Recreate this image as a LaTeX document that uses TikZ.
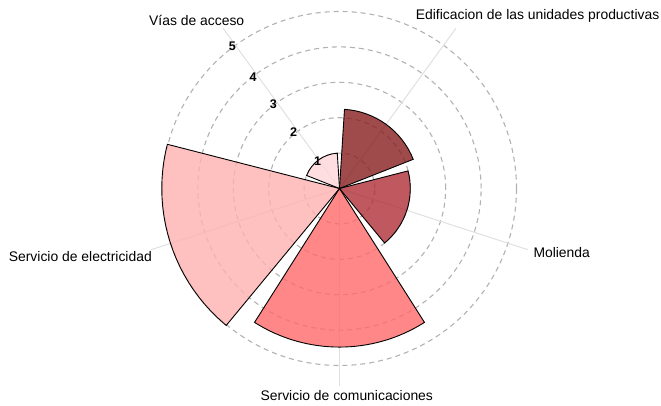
\documentclass[tikz,border=0pt]{standalone}
\usepackage{fontspec}
\setmainfont{Liberation Sans}
\usetikzlibrary{calc}
\begin{document}
\begin{tikzpicture}[x=1pt,y=1pt,
  ring/.style={draw=black!30, line width=1.1pt, dash pattern=on 5pt off 4pt},
  spoke/.style={draw=black!12, line width=1pt},
  wedge/.style={draw=black, line width=0.9pt, fill opacity=0.8},
  catlabel/.style={font=\fontsize{13.9}{16}\selectfont, inner sep=0pt},
  numlabel/.style={font=\fontsize{12.5}{14}\selectfont\bfseries, inner sep=0pt}]
\useasboundingbox (0,0) rectangle (661,406);
\definecolor{cEdif}{RGB}{136,30,30}
\definecolor{cMol}{RGB}{176,46,56}
\definecolor{cCom}{RGB}{255,105,105}
\definecolor{cElec}{RGB}{255,176,176}
\definecolor{cVias}{RGB}{255,214,217}
\def\unitr{35.4}
\coordinate (C) at (339.5,217.5);
% grid
\foreach \k in {1,...,5} {\draw[ring] (C) circle[radius=\k*\unitr];}
\foreach \a in {54,-18,-90,-162,126} {\coordinate (s\a) at ($(C)+(\a:198)$);}
\foreach \a in {54,-18,-90,-162,126} {\draw[spoke] (C) -- (s\a);}
% wedges
\foreach \c/\col/\v in {54/cEdif/2.24,-18/cMol/2.0,-90/cCom/4.48,-162/cElec/5.02,126/cVias/1.0} {
  \pgfmathsetmacro{\aa}{\c-32.4}
  \pgfmathsetmacro{\ab}{\c+32.4}
  \pgfmathsetmacro{\rr}{\v*\unitr}
  \draw[wedge, fill=\col] (C) -- ++(\aa:\rr) arc[start angle=\aa, end angle=\ab, radius=\rr] -- cycle;
}
% numbers
\node[numlabel] (n1) at (317.7,244.3) {1};
\node[numlabel] (n2) at (293.7,274.3) {2};
\node[numlabel] (n3) at (273.3,301.7) {3};
\node[numlabel] (n4) at (253.0,328.7) {4};
\node[numlabel] (n5) at (232.3,360.0) {5};
% category labels
\node[catlabel] (vias) at (196.7,386) {Vías de acceso};
\node[catlabel, anchor=east] (edif) at (659.5,390) {Edificacion de las unidades productivas};
\node[catlabel, anchor=west] (mol) at (533.3,153.5) {Molienda};
\node[catlabel, anchor=east] (elec) at (152,149) {Servicio de electricidad};
\node[catlabel] (com) at (346.8,10) {Servicio de comunicaciones};
\end{tikzpicture}
\end{document}
